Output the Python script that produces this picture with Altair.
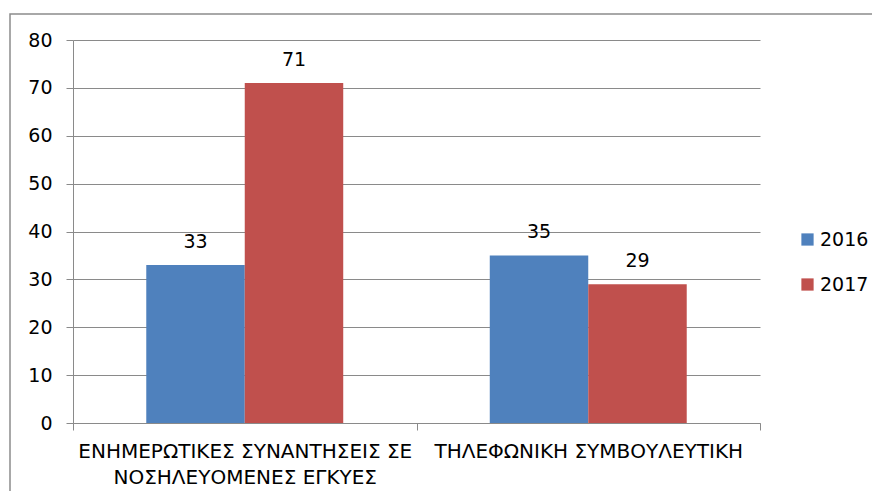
import altair as alt
import pandas as pd

categories = ["ΕΝΗΜΕΡΩΤΙΚΕΣ ΣΥΝΑΝΤΗΣΕΙΣ ΣΕ ΝΟΣΗΛΕΥΟΜΕΝΕΣ ΕΓΚΥΕΣ", "ΤΗΛΕΦΩΝΙΚΗ ΣΥΜΒΟΥΛΕΥΤΙΚΗ"]
years = ["2016", "2017"]
values_2016 = [33, 35]
values_2017 = [71, 29]
colors = ["#4F81BD", "#C0504D"]

rows = []
for i, c in enumerate(categories):
    rows.append({"cat": c, "year": years[0], "value": values_2016[i]})
    rows.append({"cat": c, "year": years[1], "value": values_2017[i]})
df = pd.DataFrame(rows)

FONT = "DejaVu Sans"
FS_CAT = 20
FS = 19

label_expr = (
    "datum.value == '" + categories[0] + "' ? "
    "['ΕΝΗΜΕΡΩΤΙΚΕΣ ΣΥΝΑΝΤΗΣΕΙΣ ΣΕ', 'ΝΟΣΗΛΕΥΟΜΕΝΕΣ ΕΓΚΥΕΣ'] : datum.label"
)

x_enc = alt.X("cat:N", sort=categories, title=None,
              scale=alt.Scale(paddingInner=0, paddingOuter=0),
              axis=alt.Axis(labelAngle=0, labelExpr=label_expr, tickBand="extent",
                            tickSize=7, labelPadding=11, labelLineHeight=26,
                            labelBaseline="top", labelFont=FONT, labelFontSize=FS_CAT,
                            labelColor="#000000", domainColor="#8a8a8a", tickColor="#8a8a8a",
                            labelLimit=0, grid=False))
xoff = alt.XOffset("year:N", sort=years, scale=alt.Scale(paddingInner=0, paddingOuter=0.744))
y_enc = alt.Y("value:Q", title=None,
              scale=alt.Scale(domain=[0, 80], nice=False),
              axis=alt.Axis(values=list(range(0, 81, 10)), tickSize=7, labelPadding=14,
                            labelFont=FONT, labelFontSize=FS, labelColor="#000000",
                            domainColor="#8a8a8a", tickColor="#8a8a8a",
                            gridColor="#8a8a8a", grid=True))

bars = alt.Chart(df).mark_bar().encode(
    x=x_enc, xOffset=xoff, y=y_enc,
    color=alt.Color("year:N", sort=years, scale=alt.Scale(domain=years, range=colors),
                    legend=alt.Legend(title=None, orient="none", legendX=725, legendY=190,
                                      symbolType="square", symbolSize=150, symbolStrokeWidth=0,
                                      labelFont=FONT, labelFontSize=FS, labelColor="#000000",
                                      rowPadding=25, labelOffset=3)),
)

labels = alt.Chart(df).mark_text(font=FONT, fontSize=FS, color="#000000", dy=-23).encode(
    x=alt.X("cat:N", sort=categories), xOffset=xoff, y=alt.Y("value:Q"),
    text=alt.Text("value:Q"),
)

border = alt.Chart(pd.DataFrame({"a": [0]})).mark_rect(
    fill=None, stroke="#8c8c8c", strokeWidth=1.5
).encode(x=alt.value(-63), x2=alt.value(900), y=alt.value(-26), y2=alt.value(520))

chart = alt.layer(border, bars, labels).properties(
    width=687, height=383,
    autosize=alt.AutoSizeParams(type="none"),
    padding={"left": 65, "top": 32, "right": 112, "bottom": 68},
).configure_view(stroke=None)

chart.save("out.html", embed_options={"renderer": "svg", "actions": False})
